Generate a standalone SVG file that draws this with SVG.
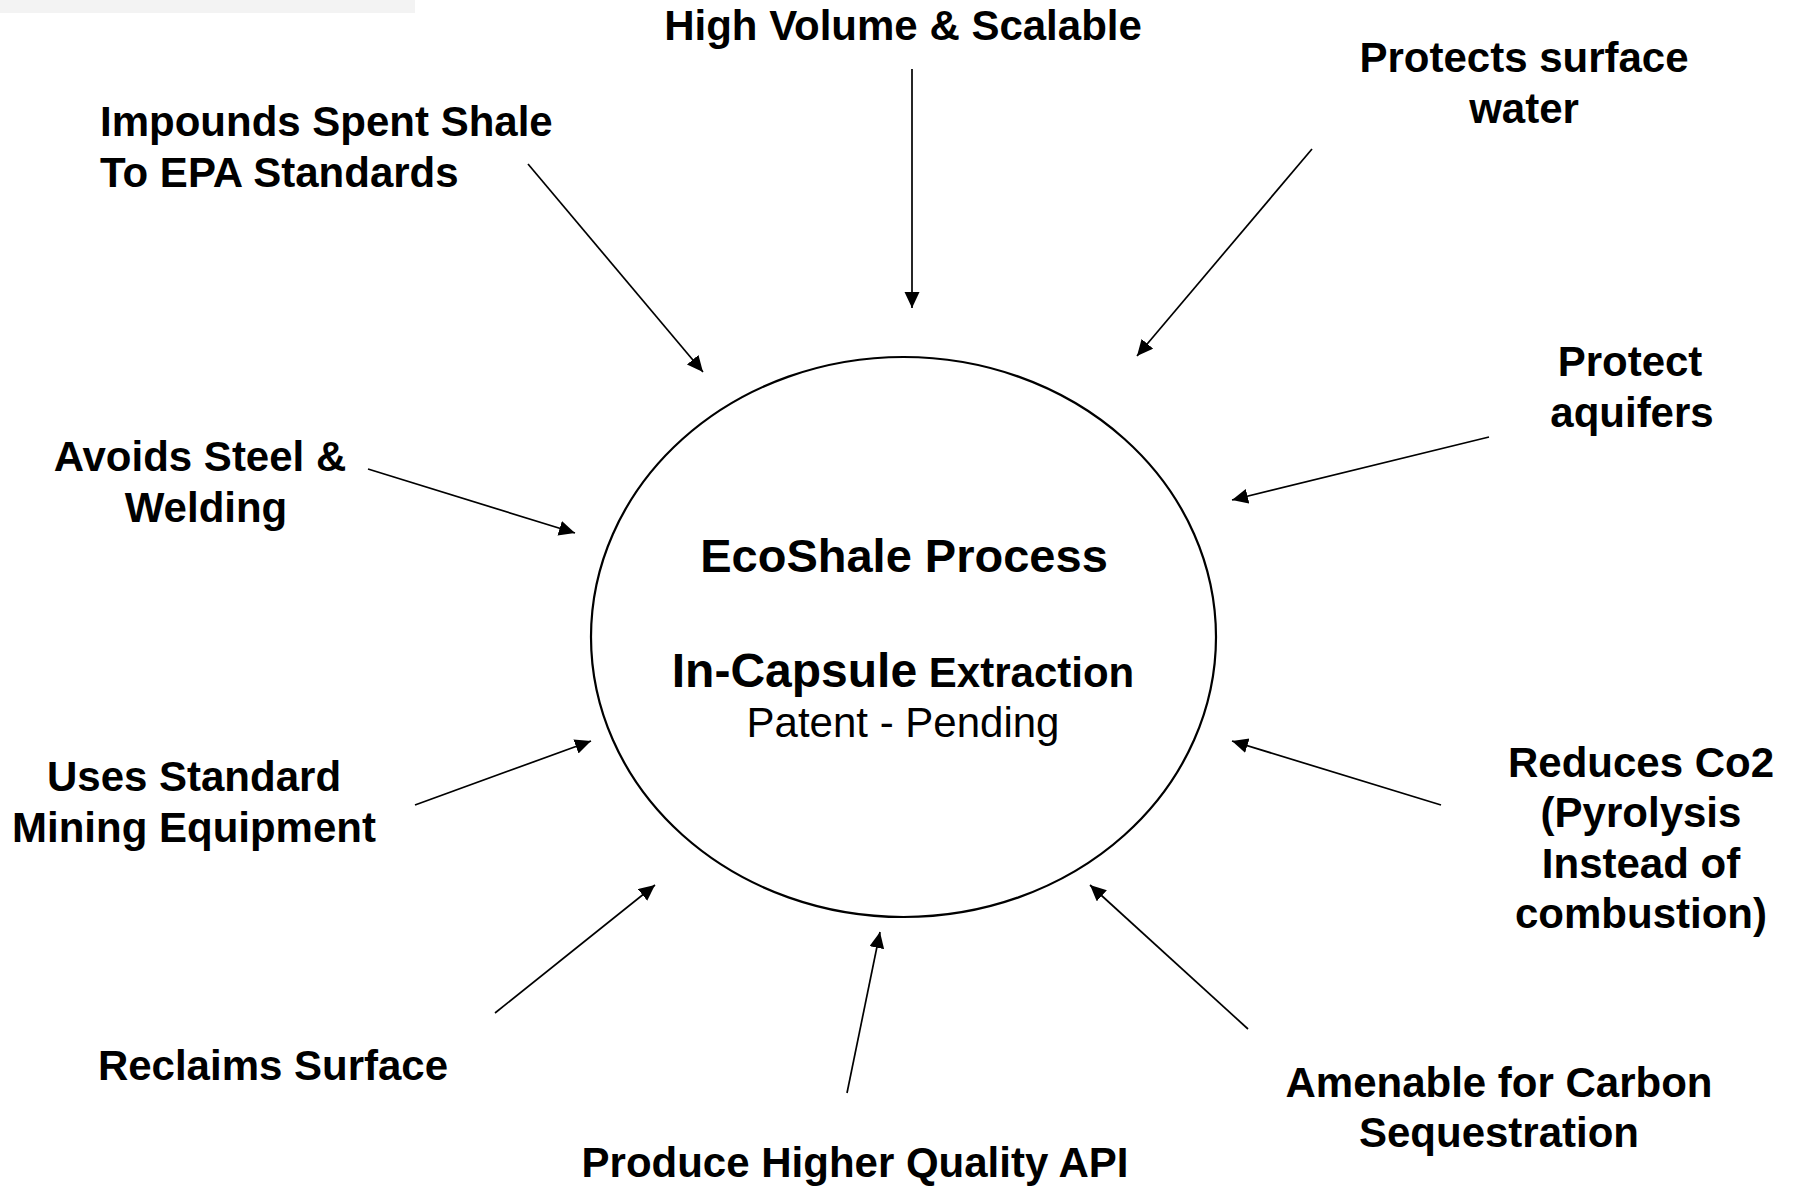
<svg xmlns="http://www.w3.org/2000/svg" width="1799" height="1187" viewBox="0 0 1799 1187">
  <style>
    .lbl { font-family: "Liberation Sans", Arial, Helvetica, sans-serif; font-weight: bold; font-size: 42px; fill: #000; text-anchor: middle; }
    .lbl-l { text-anchor: start; }
    .title { font-size: 47px; }
    .big { font-size: 48px; }
    .reg { font-family: "Liberation Sans", Arial, Helvetica, sans-serif; font-weight: normal; font-size: 42px; fill: #000; text-anchor: middle; }
    .conn { stroke: #000; stroke-width: 1.7; fill: none; marker-end: url(#arrow); }
    .hub { fill: #fff; stroke: #000; stroke-width: 2.2; }
  </style>
  <defs>
    <marker id="arrow" markerUnits="userSpaceOnUse" markerWidth="18" markerHeight="16" refX="16" refY="7.5" orient="auto">
      <path d="M0,0 L16,7.5 L0,15 Z" fill="#000"/>
    </marker>
  </defs>

  <rect width="1799" height="1187" fill="#fff"/>
  <rect x="0" y="0" width="415" height="13" fill="#f3f3f3"/>

  <!-- central process -->
  <g id="ecoshale">
    <ellipse class="hub" cx="903.5" cy="637" rx="312.5" ry="280"/>
    <text class="lbl title" x="904" y="572">EcoShale Process</text>
    <text class="lbl" x="903" y="687"><tspan class="big">In-Capsule</tspan> Extraction</text>
    <text class="reg" x="903" y="737">Patent - Pending</text>
  </g>

  <!-- benefits around the process -->
  <g id="high-volume">
    <text class="lbl" x="903" y="40">High Volume &amp; Scalable</text>
  </g>
  <g id="impounds">
    <text class="lbl lbl-l" x="100" y="136">Impounds Spent Shale</text>
    <text class="lbl lbl-l" x="100" y="187">To EPA Standards</text>
  </g>
  <g id="surface-water">
    <text class="lbl" x="1524" y="72">Protects surface</text>
    <text class="lbl" x="1524" y="123">water</text>
  </g>
  <g id="aquifers">
    <text class="lbl" x="1630" y="376">Protect</text>
    <text class="lbl" x="1632" y="427">aquifers</text>
  </g>
  <g id="steel">
    <text class="lbl" x="200" y="471">Avoids Steel &amp;</text>
    <text class="lbl" x="206" y="522">Welding</text>
  </g>
  <g id="mining">
    <text class="lbl" x="194" y="791">Uses Standard</text>
    <text class="lbl" x="194" y="842">Mining Equipment</text>
  </g>
  <g id="reclaims">
    <text class="lbl" x="273" y="1080">Reclaims Surface</text>
  </g>
  <g id="api">
    <text class="lbl" x="855" y="1177">Produce Higher Quality API</text>
  </g>
  <g id="sequestration">
    <text class="lbl" x="1499" y="1097">Amenable for Carbon</text>
    <text class="lbl" x="1499" y="1147">Sequestration</text>
  </g>
  <g id="co2">
    <text class="lbl" x="1641" y="777">Reduces Co2</text>
    <text class="lbl" x="1641" y="827">(Pyrolysis</text>
    <text class="lbl" x="1641" y="878">Instead of</text>
    <text class="lbl" x="1641" y="928">combustion)</text>
  </g>

  <!-- connectors -->
  <g id="connectors">
    <line class="conn" x1="912" y1="69" x2="912" y2="308"/>
    <line class="conn" x1="528" y1="164" x2="703" y2="372"/>
    <line class="conn" x1="1312" y1="149" x2="1137" y2="356"/>
    <line class="conn" x1="1489" y1="437" x2="1232" y2="500"/>
    <line class="conn" x1="368" y1="469" x2="575" y2="533"/>
    <line class="conn" x1="415" y1="805" x2="591" y2="741"/>
    <line class="conn" x1="495" y1="1013" x2="655" y2="885"/>
    <line class="conn" x1="847" y1="1093" x2="880" y2="932"/>
    <line class="conn" x1="1248" y1="1029" x2="1090" y2="885"/>
    <line class="conn" x1="1441" y1="805" x2="1232" y2="741"/>
  </g>
</svg>
